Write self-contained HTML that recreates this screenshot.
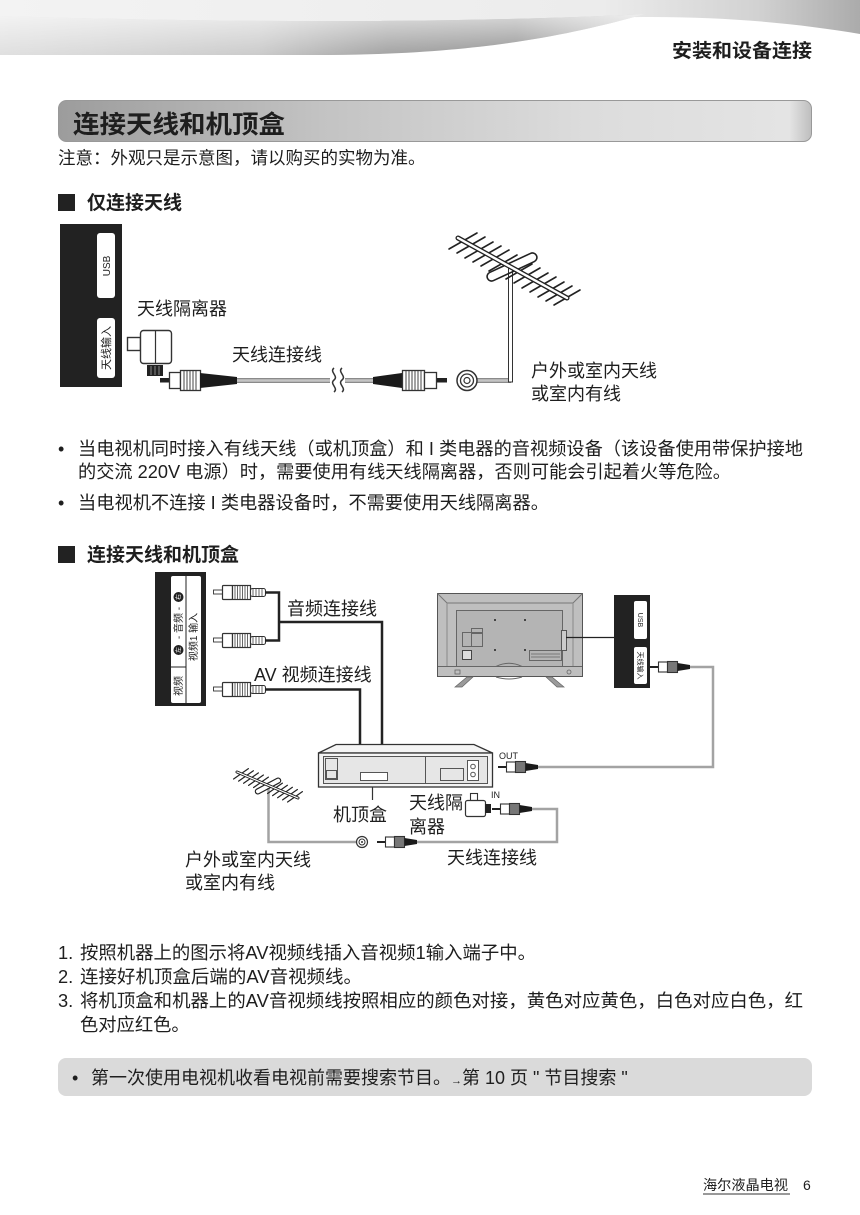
<!DOCTYPE html>
<html><head><meta charset="utf-8">
<style>
html,body{margin:0;padding:0;background:#fff;}
body{width:860px;height:1215px;overflow:hidden;}
svg{display:block;}
text{font-family:"Liberation Sans","Noto Sans CJK SC",sans-serif;fill:#1e1e1e;}
.b{font-weight:bold;}
</style></head>
<body>
<svg width="860" height="1215" viewBox="0 0 860 1215" xmlns="http://www.w3.org/2000/svg">
<defs>
<linearGradient id="gTop" x1="0" y1="0" x2="860" y2="0" gradientUnits="userSpaceOnUse">
<stop offset="0" stop-color="#f3f3f3"/><stop offset="0.7" stop-color="#ececec"/><stop offset="0.88" stop-color="#d2d2d2"/><stop offset="1" stop-color="#ababab"/>
</linearGradient>
<linearGradient id="gBand" x1="0" y1="0" x2="645" y2="0" gradientUnits="userSpaceOnUse">
<stop offset="0" stop-color="#e0e0e0"/><stop offset="0.4" stop-color="#cbcbcb"/><stop offset="0.6" stop-color="#a3a3a3"/><stop offset="0.8" stop-color="#979797"/><stop offset="1" stop-color="#d4d4d4"/>
</linearGradient>
<linearGradient id="gBandV" x1="0" y1="16" x2="0" y2="55" gradientUnits="userSpaceOnUse">
<stop offset="0" stop-color="#fff" stop-opacity="0.6"/><stop offset="1" stop-color="#fff" stop-opacity="0"/>
</linearGradient>
<linearGradient id="gTitle" x1="58" y1="0" x2="812" y2="0" gradientUnits="userSpaceOnUse">
<stop offset="0" stop-color="#9c9c9c"/><stop offset="0.35" stop-color="#c3c3c3"/><stop offset="0.7" stop-color="#dcdcdc"/><stop offset="0.97" stop-color="#e4e4e4"/><stop offset="1" stop-color="#bdbdbd"/>
</linearGradient>
<g id="fc">
<line x1="0" y1="0" x2="8" y2="0" stroke="#222" stroke-width="2"/>
<rect x="8.5" y="-5" width="9" height="10" fill="#fff" stroke="#333" stroke-width="1.1"/>
<rect x="17.5" y="-5.5" width="10" height="11" fill="#777" stroke="#333" stroke-width="1.1"/>
<polygon points="27.5,-4 40,-2 40,2 27.5,4" fill="#1a1a1a"/>
</g>
</defs>

<!-- header swoosh -->
<path d="M0,0 H860 V34 C790,22 700,14 600,18 C450,24 250,22 0,18 Z" fill="url(#gTop)"/>
<path d="M0,16 C200,22 450,24 645,14 C560,38 470,54 330,55 L0,55 Z" fill="url(#gBand)"/>
<path d="M0,16 C200,22 450,24 645,14 C560,38 470,54 330,55 L0,55 Z" fill="url(#gBandV)"/>
<text x="812" y="57" font-size="19" class="b" text-anchor="end" textLength="140" lengthAdjust="spacingAndGlyphs">安装和设备连接</text>

<!-- title bar -->
<rect x="58.5" y="100.5" width="753" height="41" rx="8" fill="url(#gTitle)" stroke="#999"/>
<text x="73" y="133" font-size="25" class="b" textLength="212" lengthAdjust="spacingAndGlyphs">连接天线和机顶盒</text>

<text x="58" y="164" font-size="17.5">注意：外观只是示意图，请以购买的实物为准。</text>

<!-- section 1 -->
<rect x="58" y="194" width="17" height="17" fill="#222"/>
<text x="87" y="209" font-size="19" class="b">仅连接天线</text>

<!-- diagram 1 -->
<rect x="60" y="224" width="62" height="163" fill="#222"/>
<rect x="97" y="233" width="18" height="65" rx="3" fill="#fff"/>
<rect x="97" y="318" width="18" height="60" rx="3" fill="#fff"/>
<text font-size="10" text-anchor="middle" transform="translate(110,266) rotate(-90)">USB</text>
<text font-size="11" text-anchor="middle" transform="translate(110,348) rotate(-90)">天线输入</text>

<!-- isolator -->
<rect x="127.5" y="337.5" width="13" height="13" fill="#fff" stroke="#333" stroke-width="1.4"/>
<rect x="140.5" y="330.5" width="31" height="33" rx="3" fill="#fff" stroke="#333" stroke-width="1.4"/>
<line x1="155.5" y1="331" x2="155.5" y2="363" stroke="#333" stroke-width="1.2"/>
<rect x="147" y="365" width="16" height="11" fill="#222"/>
<line x1="151" y1="366" x2="151" y2="375" stroke="#888"/><line x1="155" y1="366" x2="155" y2="375" stroke="#888"/><line x1="159" y1="366" x2="159" y2="375" stroke="#888"/>
<text x="137" y="315" font-size="18">天线隔离器</text>

<!-- connector A -->
<rect x="160" y="378" width="9" height="4.5" fill="#222"/>
<rect x="169.5" y="372.5" width="11" height="16" fill="#fff" stroke="#333" stroke-width="1.3"/>
<rect x="180.5" y="370.5" width="20" height="20" fill="#fff" stroke="#333" stroke-width="1.3"/>
<g stroke="#444" stroke-width="1"><line x1="184" y1="371" x2="184" y2="390"/><line x1="187" y1="371" x2="187" y2="390"/><line x1="190" y1="371" x2="190" y2="390"/><line x1="193" y1="371" x2="193" y2="390"/><line x1="196" y1="371" x2="196" y2="390"/></g>
<polygon points="200,373 237,377 237,384 200,388" fill="#1a1a1a"/>
<line x1="237" y1="380.5" x2="330" y2="380.5" stroke="#8a8a8a" stroke-width="5"/>
<line x1="237" y1="380.5" x2="330" y2="380.5" stroke="#c4c4c4" stroke-width="2.5"/>
<path d="M334,368 c-5,4 5,8 0,12 c-5,4 5,8 0,12" fill="none" stroke="#333" stroke-width="1.5"/>
<path d="M342,368 c-5,4 5,8 0,12 c-5,4 5,8 0,12" fill="none" stroke="#333" stroke-width="1.5"/>
<line x1="345" y1="380.5" x2="374" y2="380.5" stroke="#8a8a8a" stroke-width="5"/>
<line x1="345" y1="380.5" x2="374" y2="380.5" stroke="#c4c4c4" stroke-width="2.5"/>
<text x="232" y="361" font-size="18">天线连接线</text>

<!-- connector B -->
<polygon points="373,377 402,373 402,388 373,384" fill="#1a1a1a"/>
<rect x="402.5" y="370.5" width="22" height="20" fill="#fff" stroke="#333" stroke-width="1.3"/>
<g stroke="#444" stroke-width="1"><line x1="406" y1="371" x2="406" y2="390"/><line x1="409" y1="371" x2="409" y2="390"/><line x1="412" y1="371" x2="412" y2="390"/><line x1="415" y1="371" x2="415" y2="390"/><line x1="418" y1="371" x2="418" y2="390"/><line x1="421" y1="371" x2="421" y2="390"/></g>
<rect x="424.5" y="372.5" width="12" height="16" fill="#fff" stroke="#333" stroke-width="1.3"/>
<rect x="437" y="378" width="10" height="4.5" fill="#222"/>

<!-- wall socket -->
<line x1="477" y1="380.5" x2="511" y2="380.5" stroke="#8a8a8a" stroke-width="5"/>
<line x1="477" y1="380.5" x2="511" y2="380.5" stroke="#c4c4c4" stroke-width="2.5"/>
<circle cx="467" cy="380.5" r="10" fill="#fff" stroke="#333" stroke-width="1.5"/>
<circle cx="467" cy="380.5" r="6.5" fill="none" stroke="#333" stroke-width="1.3"/>
<circle cx="467" cy="380.5" r="3" fill="none" stroke="#333" stroke-width="1.2"/>

<!-- antenna 1 -->
<rect x="508.5" y="266" width="4" height="116" fill="#fff" stroke="#333" stroke-width="1"/>
<g stroke="#222" stroke-width="1.6" stroke-linecap="round">
<line x1="449" y1="249" x2="477" y2="233"/>
<line x1="457" y1="253" x2="485" y2="237"/>
<line x1="465" y1="258" x2="493" y2="242"/>
<line x1="473" y1="262" x2="501" y2="246"/>
<line x1="481" y1="266" x2="509" y2="250"/>
<line x1="489" y1="271" x2="517" y2="255"/>
<line x1="506" y1="279" x2="532" y2="264"/>
<line x1="514" y1="283" x2="540" y2="268"/>
<line x1="522" y1="288" x2="548" y2="273"/>
<line x1="530" y1="292" x2="556" y2="277"/>
<line x1="538" y1="297" x2="564" y2="282"/>
<line x1="546" y1="301" x2="572" y2="286"/>
<line x1="554" y1="305" x2="580" y2="290"/>
</g>
<rect x="-27" y="-4.5" width="54" height="9" rx="4.5" transform="translate(512,267) rotate(-25)" fill="none" stroke="#222" stroke-width="1.6"/>
<line x1="458" y1="238" x2="567" y2="298" stroke="#222" stroke-width="5" stroke-linecap="round"/>
<line x1="458" y1="238" x2="567" y2="298" stroke="#fff" stroke-width="2.4" stroke-linecap="round"/>
<text x="531" y="377" font-size="18">户外或室内天线</text>
<text x="531" y="400" font-size="18">或室内有线</text>

<!-- bullets -->
<text x="58" y="455" font-size="18">•</text>
<text x="78" y="455" font-size="18" textLength="725" lengthAdjust="spacingAndGlyphs">当电视机同时接入有线天线（或机顶盒）和 I 类电器的音视频设备（该设备使用带保护接地</text>
<text x="78" y="478" font-size="18" textLength="653" lengthAdjust="spacingAndGlyphs">的交流 220V 电源）时，需要使用有线天线隔离器，否则可能会引起着火等危险。</text>
<text x="58" y="509" font-size="18">•</text>
<text x="78" y="509" font-size="18" textLength="471" lengthAdjust="spacingAndGlyphs">当电视机不连接 I 类电器设备时，不需要使用天线隔离器。</text>

<!-- section 2 -->
<rect x="58" y="546" width="17" height="17" fill="#222"/>
<text x="87" y="561" font-size="19" class="b">连接天线和机顶盒</text>

<!-- left AV panel -->
<rect x="155" y="572" width="51" height="134" fill="#222"/>
<rect x="171" y="576" width="30" height="127" rx="2" fill="#fff"/>
<line x1="186" y1="576" x2="186" y2="703" stroke="#222" stroke-width="1"/>
<line x1="171" y1="667" x2="186" y2="667" stroke="#222" stroke-width="1"/>
<circle cx="178.5" cy="597" r="5" fill="#222"/>
<circle cx="178.5" cy="650" r="5" fill="#222"/>
<text font-size="6" text-anchor="middle" style="fill:#fff" transform="translate(180.5,597) rotate(-90)">右</text>
<text font-size="6" text-anchor="middle" style="fill:#fff" transform="translate(180.5,650) rotate(-90)">左</text>
<text font-size="10" text-anchor="middle" transform="translate(182,623) rotate(-90)">- 音频 -</text>
<text font-size="10" text-anchor="middle" transform="translate(197,637) rotate(-90)">视频1 输入</text>
<text font-size="10" text-anchor="middle" transform="translate(182,686) rotate(-90)">视频</text>

<!-- RCA plugs -->
<g id="rca1">
<rect x="213.5" y="590" width="9" height="4" fill="#fff" stroke="#333" stroke-width="0.9"/>
<rect x="222.5" y="585.5" width="10" height="14" rx="1" fill="#fff" stroke="#333" stroke-width="1.2"/>
<rect x="232.5" y="585.5" width="18" height="14" fill="#fff" stroke="#333" stroke-width="1.2"/>
<g stroke="#555" stroke-width="0.9"><line x1="235" y1="586" x2="235" y2="599"/><line x1="237.5" y1="586" x2="237.5" y2="599"/><line x1="240" y1="586" x2="240" y2="599"/><line x1="242.5" y1="586" x2="242.5" y2="599"/><line x1="245" y1="586" x2="245" y2="599"/><line x1="247.5" y1="586" x2="247.5" y2="599"/></g>
<rect x="250.5" y="588.5" width="15" height="8" rx="2" fill="#fff" stroke="#333" stroke-width="1.1"/>
<g stroke="#555" stroke-width="0.9"><line x1="253" y1="589" x2="253" y2="596"/><line x1="256" y1="589" x2="256" y2="596"/><line x1="259" y1="589" x2="259" y2="596"/><line x1="262" y1="589" x2="262" y2="596"/></g>
</g>
<use href="#rca1" transform="translate(0,48)"/>
<use href="#rca1" transform="translate(0,97)"/>
<g fill="none" stroke="#222" stroke-width="2.5">
<path d="M265,592.5 H279 V640.5 H265"/>
<path d="M279,622 H382 V745"/>
<path d="M265,689.5 H360 V745"/>
</g>
<text x="287" y="615" font-size="18">音频连接线</text>
<text x="254" y="681" font-size="18">AV 视频连接线</text>

<!-- TV -->
<rect x="437.5" y="593.5" width="145" height="83" fill="#bfbfbf" stroke="#555" stroke-width="1"/>
<path d="M437.5,593.5 L447,603 H573 L582.5,593.5" fill="none" stroke="#777" stroke-width="1"/>
<line x1="447" y1="603" x2="447" y2="666" stroke="#888"/>
<line x1="573" y1="603" x2="573" y2="666" stroke="#888"/>
<line x1="438" y1="666.5" x2="582" y2="666.5" stroke="#666"/>
<rect x="456.5" y="610.5" width="106" height="56" fill="#b4b4b4" stroke="#666"/>
<g fill="#444"><rect x="494" y="619" width="2" height="2"/><rect x="524" y="619" width="2" height="2"/><rect x="494" y="649" width="2" height="2"/><rect x="524" y="649" width="2" height="2"/></g>
<rect x="462.5" y="632.5" width="20" height="14" fill="none" stroke="#666"/>
<rect x="471.5" y="628.5" width="11" height="5" fill="none" stroke="#666"/>
<line x1="471.5" y1="633" x2="471.5" y2="646" stroke="#666"/>
<rect x="462.5" y="650.5" width="9" height="9" fill="#ddd" stroke="#444"/>
<rect x="529.5" y="650.5" width="32" height="10" fill="none" stroke="#666"/>
<line x1="531" y1="654" x2="560" y2="654" stroke="#777"/><line x1="531" y1="657" x2="560" y2="657" stroke="#777"/>
<path d="M496,666.5 Q509,660 522,666.5" fill="none" stroke="#666"/>
<rect x="561.5" y="630.5" width="5" height="20" fill="#ccc" stroke="#555"/>
<rect x="455" y="670" width="5" height="4" fill="none" stroke="#666" stroke-width="0.8"/>
<circle cx="569" cy="672" r="2" fill="none" stroke="#666" stroke-width="0.8"/>
<polygon points="467,677 473,677 462,687 455,687" fill="#9a9a9a" stroke="#666" stroke-width="0.7"/>
<polygon points="546,677 552,677 564,687 557,687" fill="#9a9a9a" stroke="#666" stroke-width="0.7"/>
<path d="M496,677 Q509,681 522,677" fill="none" stroke="#666"/>
<line x1="566" y1="637.5" x2="614" y2="637.5" stroke="#222" stroke-width="1.3"/>

<!-- TV side panel -->
<rect x="614" y="595" width="36" height="93" fill="#222"/>
<rect x="634" y="601" width="13" height="38" rx="2" fill="#fff"/>
<rect x="634" y="647" width="13" height="37" rx="2" fill="#fff"/>
<text font-size="7" text-anchor="middle" transform="translate(638,620) rotate(90)">USB</text>
<text font-size="7" text-anchor="middle" transform="translate(638,665.5) rotate(90)">天线输入</text>

<use href="#fc" transform="translate(650,667)"/>
<use href="#fc" transform="translate(498,767)"/>
<use href="#fc" transform="translate(492,809)"/>
<use href="#fc" transform="translate(377,842)"/>

<g fill="none" stroke="#a3a3a3" stroke-width="2.5">
<path d="M690,667 H713 V767 H538"/>
<path d="M532,809 H557 V842 H417"/>
<path d="M356,842 H268.5 V788"/>
</g>
<text x="499" y="759" font-size="9">OUT</text>
<text x="491" y="798" font-size="9">IN</text>

<!-- STB -->
<path d="M318.5,753 L336,744.5 H474 L492.5,753 Z" fill="#f4f4f4" stroke="#333" stroke-width="1.3"/>
<rect x="318.5" y="753" width="174" height="34" fill="#f4f4f4" stroke="#333" stroke-width="1.3"/>
<rect x="323.5" y="756.5" width="164" height="27" fill="#e6e6e6" stroke="#555" stroke-width="1"/>
<line x1="425.5" y1="757" x2="425.5" y2="783" stroke="#555"/>
<rect x="325.5" y="758.5" width="12" height="21" fill="#e6e6e6" stroke="#555"/>
<rect x="326.5" y="770.5" width="10" height="8" fill="#e6e6e6" stroke="#555"/>
<rect x="360.5" y="772.5" width="27" height="8" fill="#fff" stroke="#555"/>
<rect x="440.5" y="768.5" width="23" height="12" fill="#e6e6e6" stroke="#555"/>
<rect x="467.5" y="760.5" width="11" height="20" fill="#fff" stroke="#555"/>
<circle cx="473" cy="766.5" r="2.3" fill="none" stroke="#555"/>
<circle cx="473" cy="774.5" r="2.3" fill="none" stroke="#555"/>
<line x1="372.5" y1="787" x2="372.5" y2="800" stroke="#333" stroke-width="1.2"/>
<text x="333" y="821" font-size="18">机顶盒</text>

<!-- small isolator -->
<rect x="470.5" y="793.5" width="7" height="7" fill="#fff" stroke="#333" stroke-width="1.1"/>
<rect x="465.5" y="800.5" width="20" height="16" rx="2" fill="#fff" stroke="#333" stroke-width="1.2"/>
<rect x="485" y="804" width="6" height="9" fill="#222"/>
<text x="409" y="809" font-size="18">天线隔</text>
<text x="409" y="833" font-size="18">离器</text>

<!-- wall socket 2 -->
<circle cx="362" cy="842" r="5.5" fill="#fff" stroke="#333" stroke-width="1.2"/>
<circle cx="362" cy="842" r="3" fill="none" stroke="#333" stroke-width="1"/>
<circle cx="362" cy="842" r="1" fill="#333"/>

<!-- small antenna -->
<g stroke="#222" stroke-width="1.2" stroke-linecap="round">
<line x1="233.6" y1="779" x2="248.4" y2="768.6"/>
<line x1="238.6" y1="781.1" x2="253.4" y2="770.7"/>
<line x1="243.6" y1="783.3" x2="258.4" y2="772.9"/>
<line x1="248.6" y1="785.4" x2="263.4" y2="775"/>
<line x1="253.6" y1="787.5" x2="268.4" y2="777.1"/>
<line x1="267.6" y1="793.5" x2="282.4" y2="783.1"/>
<line x1="272.6" y1="795.6" x2="287.4" y2="785.2"/>
<line x1="277.6" y1="797.7" x2="292.4" y2="787.3"/>
<line x1="282.6" y1="799.9" x2="297.4" y2="789.5"/>
<line x1="287.6" y1="802" x2="302.4" y2="791.6"/>
</g>
<rect x="-14" y="-2.5" width="28" height="5" rx="2.5" transform="translate(268,786) rotate(-28)" fill="none" stroke="#222" stroke-width="1.2"/>
<line x1="237" y1="772" x2="298" y2="798" stroke="#222" stroke-width="3" stroke-linecap="round"/>
<line x1="237" y1="772" x2="298" y2="798" stroke="#fff" stroke-width="1.2" stroke-linecap="round"/>
<text x="185" y="866" font-size="18">户外或室内天线</text>
<text x="185" y="889" font-size="18">或室内有线</text>
<text x="447" y="864" font-size="18">天线连接线</text>

<!-- numbered list -->
<text x="58" y="959" font-size="18.3">1.</text>
<text x="80" y="959" font-size="18.3" textLength="456" lengthAdjust="spacingAndGlyphs">按照机器上的图示将AV视频线插入音视频1输入端子中。</text>
<text x="58" y="983" font-size="18.3">2.</text>
<text x="80" y="983" font-size="18.3" textLength="282" lengthAdjust="spacingAndGlyphs">连接好机顶盒后端的AV音视频线。</text>
<text x="58" y="1007" font-size="18.3">3.</text>
<text x="80" y="1007" font-size="18.3" textLength="723" lengthAdjust="spacingAndGlyphs">将机顶盒和机器上的AV音视频线按照相应的颜色对接，黄色对应黄色，白色对应白色，红</text>
<text x="80" y="1031" font-size="18.3">色对应红色。</text>

<!-- note box -->
<rect x="58" y="1058" width="754" height="38" rx="8" fill="#dadada"/>
<text x="72" y="1084" font-size="18">•</text>
<text x="91" y="1084" font-size="18">第一次使用电视机收看电视前需要搜索节目。<tspan font-size="11">→</tspan>第 10 页 " 节目搜索 "</text>

<!-- footer -->
<text x="703" y="1190" font-size="14" textLength="85" lengthAdjust="spacingAndGlyphs">海尔液晶电视</text>
<line x1="703" y1="1194" x2="790" y2="1194" stroke="#999" stroke-width="2"/>
<text x="803" y="1190" font-size="14">6</text>
</svg>
</body></html>
